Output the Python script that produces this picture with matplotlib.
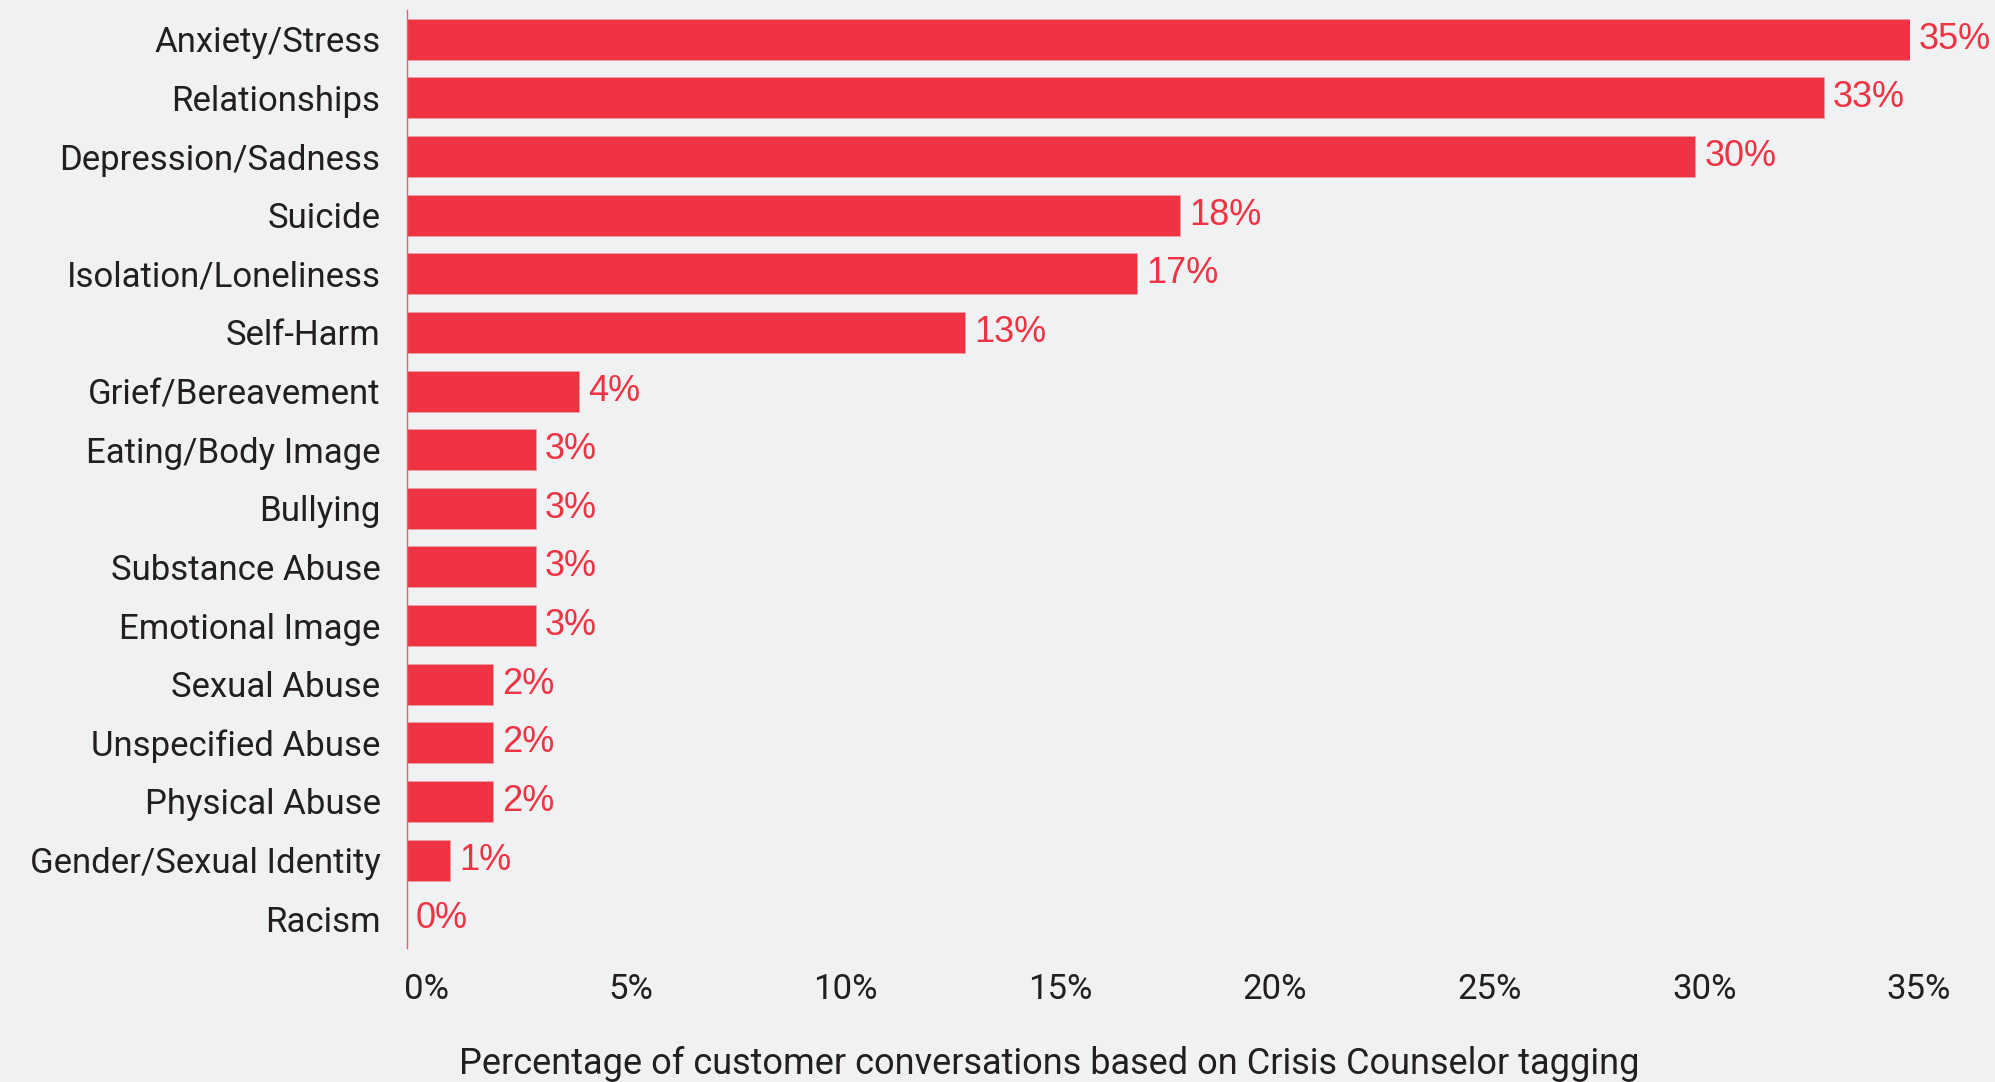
import matplotlib
matplotlib.use("Agg")
import matplotlib.pyplot as plt
from matplotlib.transforms import ScaledTranslation

categories = ["Anxiety/Stress", "Relationships", "Depression/Sadness", "Suicide",
              "Isolation/Loneliness", "Self-Harm", "Grief/Bereavement", "Eating/Body Image",
              "Bullying", "Substance Abuse", "Emotional Image", "Sexual Abuse",
              "Unspecified Abuse", "Physical Abuse", "Gender/Sexual Identity", "Racism"]
values = [35, 33, 30, 18, 17, 13, 4, 3, 3, 3, 3, 2, 2, 2, 1, 0]
xticks = [0, 5, 10, 15, 20, 25, 30, 35]
xticklabels = ["0%", "5%", "10%", "15%", "20%", "25%", "30%", "35%"]
xlabel = "Percentage of customer conversations based on Crisis Counselor tagging"

BG = "#F0F1F3"
RED = "#EF3342"
DARK = "#231F20"

fig = plt.figure(figsize=(19.95, 10.82), dpi=100, facecolor=BG)
ax = fig.add_axes([407/1995, 134/1082, (1910-407)/1995, (948-10)/1082])
ax.set_facecolor(BG)

ypos = list(range(len(categories)))
ax.barh(ypos, values, height=0.7, color=RED, edgecolor="#E8A0A6", linewidth=0.6)
ax.set_ylim(15.5, -0.5)
ax.set_xlim(0, 35)

for y, v in zip(ypos, values):
    ax.text(v, y, f"{v}%", ha="left", va="center", color=RED,
            fontsize=26, family="Liberation Sans", clip_on=False,
            transform=ax.transData + ScaledTranslation(9/100, 0, fig.dpi_scale_trans))

ax.set_yticks(ypos)
ax.set_yticklabels(categories, family="Roboto", fontsize=25, color=DARK)
ax.set_xticks(xticks)
ax.set_xticklabels(xticklabels, family="Roboto", fontsize=25, color=DARK)
ax.tick_params(axis="both", length=0)
ax.tick_params(axis="y", pad=19)
ax.tick_params(axis="x", pad=18)
for i, lab in enumerate(ax.get_xticklabels()):
    dx = 20 if i == 0 else 9
    lab.set_transform(lab.get_transform() + ScaledTranslation(dx/100, 0, fig.dpi_scale_trans))

for s in ["top", "right", "bottom"]:
    ax.spines[s].set_visible(False)
ax.spines["left"].set_color("#E8606B")
ax.spines["left"].set_linewidth(1.0)

fig.text(1049/1995, 1-1064/1082, xlabel, ha="center", va="center",
         family="Roboto", fontsize=26, color=DARK)

fig.savefig("out.png", dpi=100, facecolor=BG)
